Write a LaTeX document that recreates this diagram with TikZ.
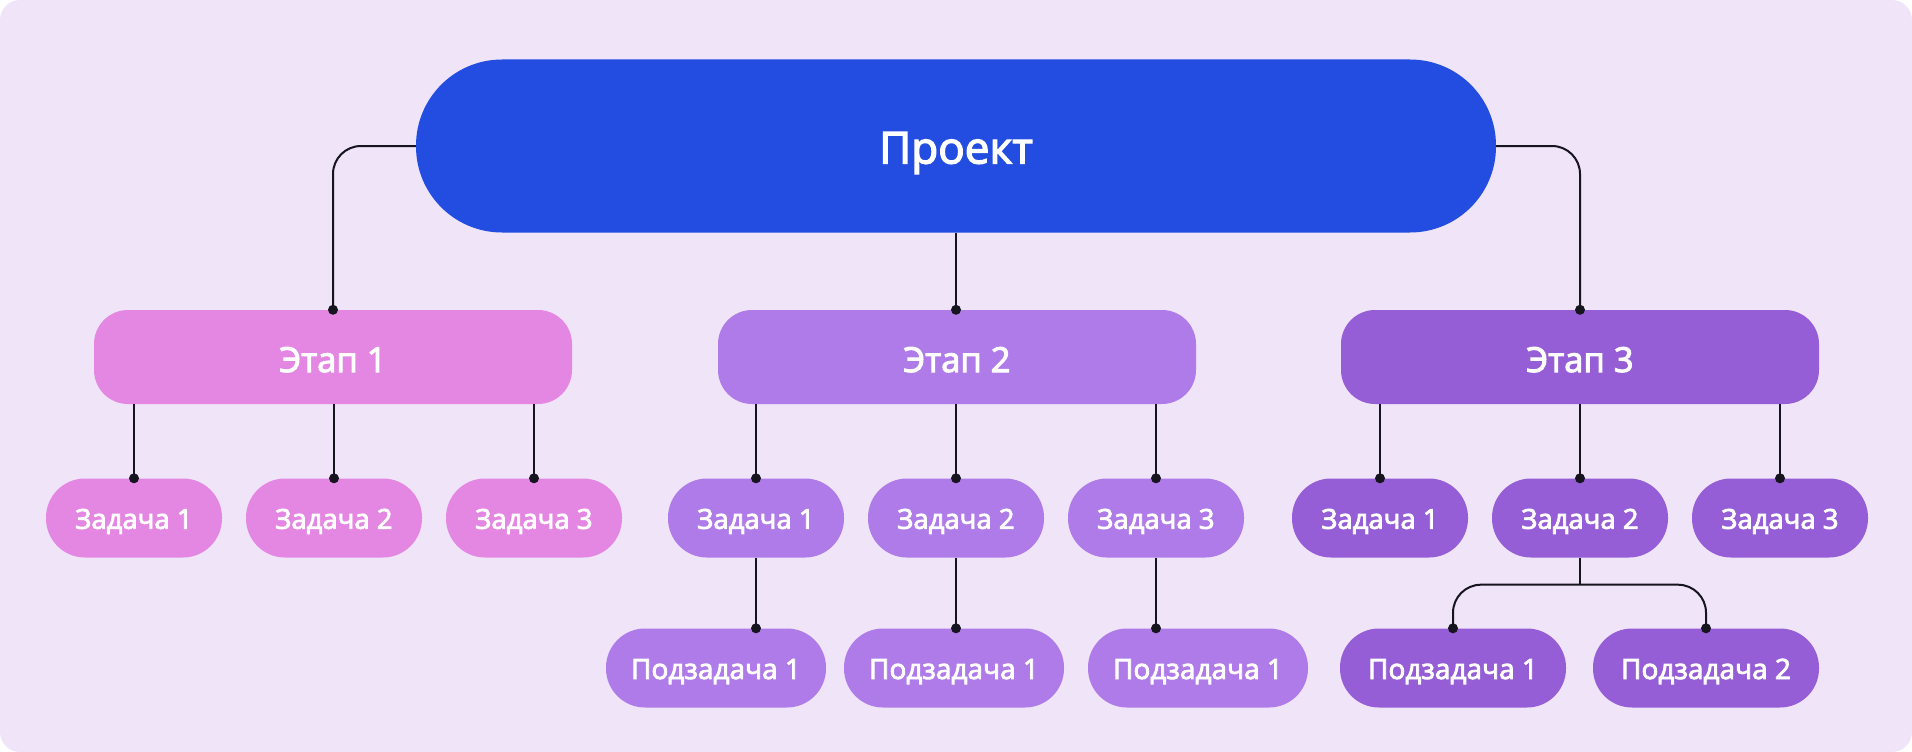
\documentclass[tikz,border=0pt]{standalone}
\usepackage{fontspec}
\setmainfont{Open Sans}[FakeBold=3]
\definecolor{bgc}{RGB}{240,228,249}
\definecolor{blu}{RGB}{35,77,225}
\definecolor{pnk}{RGB}{228,135,227}
\definecolor{pur}{RGB}{174,123,232}
\definecolor{vio}{RGB}{149,94,214}
\definecolor{lin}{RGB}{22,20,30}
\tikzset{
  pill/.style={inner sep=0pt, text=white, align=center, text depth=0pt},
  projbox/.style={pill, fill=blu, minimum width=1080pt, minimum height=173pt, rounded corners=86pt, font=\fontsize{44}{50}\selectfont, text height=35pt},
  stagebox/.style={pill, minimum width=478pt, minimum height=94pt, rounded corners=34pt, font=\fontsize{34.5}{40}\selectfont, text height=30pt},
  taskbox/.style={pill, minimum width=176pt, minimum height=79pt, rounded corners=39pt, font=\fontsize{27.5}{32}\selectfont, text height=21.6pt},
  subbox/.style={pill, minimum height=79pt, rounded corners=39pt, font=\fontsize{28}{32}\selectfont, text height=22pt},
  conn/.style={draw=lin, line width=2pt, rounded corners=28pt},
  dotc/.style={fill=lin}
}
\begin{document}
\begin{tikzpicture}[x=1pt,y=-1pt]
\useasboundingbox (0,0) rectangle (1912,752);
\fill[bgc, rounded corners=20pt] (0,0) rectangle (1912,752);

\node[projbox] (proj) at (956,146) {Проект};

\node[stagebox, fill=pnk] (e1) at (333,357) {Этап 1};
\node[stagebox, fill=pur] (e2) at (957,357) {Этап 2};
\node[stagebox, fill=vio] (e3) at (1580,357) {Этап 3};

\node[taskbox, fill=pnk] (t11) at (134,518) {Задача 1};
\node[taskbox, fill=pnk] (t12) at (334,518) {Задача 2};
\node[taskbox, fill=pnk] (t13) at (534,518) {Задача 3};
\node[taskbox, fill=pur] (t21) at (756,518) {Задача 1};
\node[taskbox, fill=pur] (t22) at (956,518) {Задача 2};
\node[taskbox, fill=pur] (t23) at (1156,518) {Задача 3};
\node[taskbox, fill=vio] (t31) at (1380,518) {Задача 1};
\node[taskbox, fill=vio] (t32) at (1580,518) {Задача 2};
\node[taskbox, fill=vio] (t33) at (1780,518) {Задача 3};

\node[subbox, fill=pur, minimum width=220pt] (s21) at (716,668) {Подзадача 1};
\node[subbox, fill=pur, minimum width=220pt] (s22) at (954,668) {Подзадача 1};
\node[subbox, fill=pur, minimum width=220pt] (s23) at (1198,668) {Подзадача 1};
\node[subbox, fill=vio, minimum width=226pt] (s31) at (1453,668) {Подзадача 1};
\node[subbox, fill=vio, minimum width=226pt] (s32) at (1706,668) {Подзадача 2};

% project to stages
\draw[conn] (proj.west) -| (e1.north);
\draw[conn] (proj.east) -| (e3.north);
\draw[conn] (proj.south) -- (proj.south |- e2.north);
\fill[dotc] (e1.north) circle (5pt);
\fill[dotc] (proj.south |- e2.north) circle (5pt);
\fill[dotc] (e3.north) circle (5pt);

% stages to tasks
\foreach \s/\t in {e1/t11,e1/t12,e1/t13,e2/t21,e2/t22,e2/t23,e3/t31,e3/t32,e3/t33}{
  \draw[conn] (\t.north |- \s.south) -- (\t.north);
  \fill[dotc] (\t.north) circle (5pt);
}

% tasks to subtasks
\foreach \t/\u in {t21/s21,t22/s22,t23/s23}{
  \draw[conn] (\t.south) -- (\t.south |- \u.north);
  \fill[dotc] (\t.south |- \u.north) circle (5pt);
}
\coordinate (br) at ([yshift=-27pt]t32.south);
\draw[conn] (t32.south) -- (br);
\draw[conn] (s31.north) |- (br) -| (s32.north);
\fill[dotc] (s31.north) circle (5pt);
\fill[dotc] (s32.north) circle (5pt);
\end{tikzpicture}
\end{document}
